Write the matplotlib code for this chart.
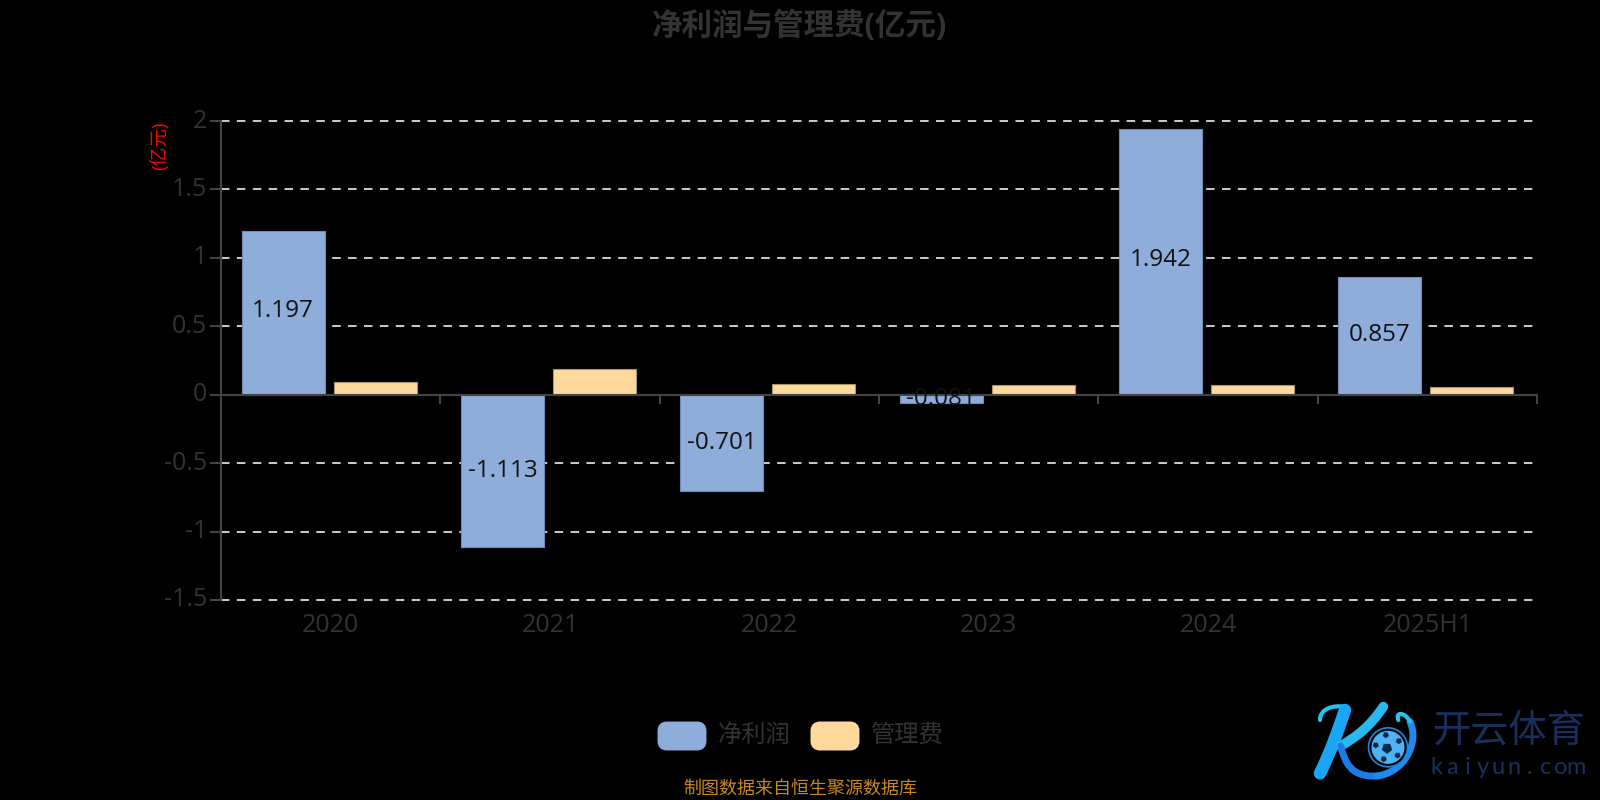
import numpy as np
import matplotlib
matplotlib.use('Agg')
import matplotlib.pyplot as plt
from matplotlib.patches import Circle, FancyBboxPatch, RegularPolygon, PathPatch
from matplotlib.path import Path
from matplotlib.transforms import ScaledTranslation

plt.rcParams['font.family'] = ['Open Sans', 'Noto Sans CJK SC', 'DejaVu Sans']

categories = ['2020', '2021', '2022', '2023', '2024', '2025H1']
net_profit = [1.197, -1.113, -0.701, -0.061, 1.942, 0.857]
net_profit_labels = ['1.197', '-1.113', '-0.701', '-0.081', '1.942', '0.857']
admin_fee = [0.09, 0.19, 0.08, 0.07, 0.07, 0.06]
y_ticks = [-1.5, -1, -0.5, 0, 0.5, 1, 1.5, 2]
y_labels = ['-1.5', '-1', '-0.5', '0', '0.5', '1', '1.5', '2']
series_names = ['净利润', '管理费']

BLUE = '#8eadda'
ORANGE = '#ffd89b'
GREY = '#333333'
AXIS = '#444444'
NAVY = '#1b2f5e'

W, H = 1600, 800
fig = plt.figure(figsize=(16, 8), dpi=100, facecolor='black')
ax = fig.add_axes([221 / W, 1 - 600 / H, (1537 - 221) / W, (600 - 121) / H], facecolor='black')

x = np.arange(len(categories))
bar_w = 83 / 219.3
off = 45.5 / 219.3
shift = -1 / 219.3

ax.set_axisbelow(True)
ax.grid(axis='y', color='#dddddd', linewidth=1.3, linestyle=(0, (4.7, 4.1)), clip_on=False)
bars1 = ax.bar(x - off + 2 * shift, net_profit, bar_w, color=BLUE, edgecolor='#6f8db8', linewidth=0.8, zorder=3)
bars2 = ax.bar(x + off + shift, admin_fee, bar_w, color=ORANGE, edgecolor='#a89468', linewidth=0.8, zorder=3)

# value labels sit mid-bar and get cut by the bar, that's how the small one looks
up = ScaledTranslation(0, 1.5 / 100, fig.dpi_scale_trans)
for b, v, s in zip(bars1, net_profit, net_profit_labels):
    tr = ax.transData + up if v > 0 else ax.transData
    t = ax.text(b.get_x() + b.get_width() / 2, v / 2, s, ha='center', va='center',
                fontsize=17.5, color='#111111', zorder=4, transform=tr)
    t.set_clip_path(b)

ax.set_xlim(-0.5, len(categories) - 0.5)
ax.set_ylim(-1.5, 2)
ax.set_yticks(y_ticks)
ax.set_yticklabels(y_labels)
ax.set_xticks(x)
ax.set_xticklabels(categories)
ax.set_xticks(np.arange(len(categories) + 1) - 0.5, minor=True)
ax.tick_params(axis='y', colors=GREY, labelsize=18, length=8, width=1.5, color=AXIS, pad=2)
ax.tick_params(axis='x', which='major', length=0, labelsize=18, colors=GREY, pad=157)
ax.tick_params(axis='x', which='minor', length=6.5, width=1.5, color=AXIS)
tick_up = ScaledTranslation(0, 3 / 100, fig.dpi_scale_trans)
for lab in ax.get_yticklabels():
    lab.set_transform(lab.get_transform() + tick_up)

for s in ['top', 'right']:
    ax.spines[s].set_visible(False)
ax.spines['bottom'].set_position(('data', 0))
ax.spines['bottom'].set_color(AXIS)
ax.spines['bottom'].set_linewidth(1.5)
ax.spines['bottom'].set_zorder(3.5)
ax.spines['left'].set_color(AXIS)
ax.spines['left'].set_linewidth(1.5)

fig.text(800 / W, 1 - 26 / H, '净利润与管理费(亿元)', ha='center', va='center', fontsize=22,
         fontweight='bold', color=GREY)
fig.text(160 / W, 1 - 146 / H, '(亿元)', ha='center', va='center', rotation=90, fontsize=13.5, color='#ff0000')
fig.text(800 / W, 1 - 789 / H, '制图数据来自恒生聚源数据库', ha='center', va='center', fontsize=13, color='#c8881c')

# overlay in pixel coords for legend and logo
ov = fig.add_axes([0, 0, 1, 1], facecolor='none')
ov.set_xlim(0, W)
ov.set_ylim(H, 0)
ov.axis('off')
for lx, col, name in zip([658, 811], [BLUE, ORANGE], series_names):
    ov.add_patch(FancyBboxPatch((lx + 3, 725), 42, 22, boxstyle='round,pad=0,rounding_size=6',
                                mutation_aspect=1, facecolor=col, edgecolor=col, linewidth=5))
    ov.text(lx + 60, 736, name, ha='left', va='center', fontsize=17.5, color=GREY)


# logo, traced roughly from a 3x crop starting at (1270, 690)
def z(px, py):
    return (1270 + px / 3, 690 + py / 3)


def stroke(pts, col, lw):
    codes = [Path.MOVETO] + [Path.CURVE4] * (len(pts) - 1)
    ov.add_patch(PathPatch(Path([z(*p) for p in pts], codes), facecolor='none', edgecolor=col,
                           linewidth=lw, capstyle='round'))


stroke([(150, 90), (150, 55), (190, 45), (225, 50)], '#25c4ee', 3)
stroke([(225, 60), (205, 120), (180, 190), (150, 250)], '#19a6f5', 9)
stroke([(340, 50), (300, 110), (260, 140), (212, 168)], '#2ab8f0', 7)
stroke([(212, 168), (225, 215), (240, 262), (320, 258)], '#1b7be8', 5)
stroke([(320, 258), (400, 250), (450, 160), (420, 95)], '#1b8cee', 5)
stroke([(420, 95), (405, 65), (375, 65), (385, 90)], '#2ac0ee', 3)

bx, by = z(354, 172)
ov.add_patch(Circle((bx, by), 19.5, facecolor='black', edgecolor='#1f86e0', linewidth=1.2))
ov.add_patch(Circle((bx, by), 16.5, facecolor='#4fb2f4', edgecolor='none'))
ov.add_patch(RegularPolygon((bx - 1, by + 1), 5, radius=5.5, facecolor='#0b2a50'))
for ang in [30, 100, 170, 250, 320]:
    ov.add_patch(RegularPolygon((bx + 12.5 * np.cos(np.radians(ang)), by - 12.5 * np.sin(np.radians(ang))),
                                5, radius=3.2, facecolor='#0b2a50'))

ov.text(1432, 732, '开云体育', ha='left', va='center', fontsize=27.5, fontweight='medium', color=NAVY)
for i, ch in enumerate('kaiyun.com'):
    ov.text(1436 + i * 15.6, 768, ch, ha='center', va='center', fontsize=17, family='Lato', color=NAVY)

fig.savefig('out.png', dpi=100, facecolor='black')
